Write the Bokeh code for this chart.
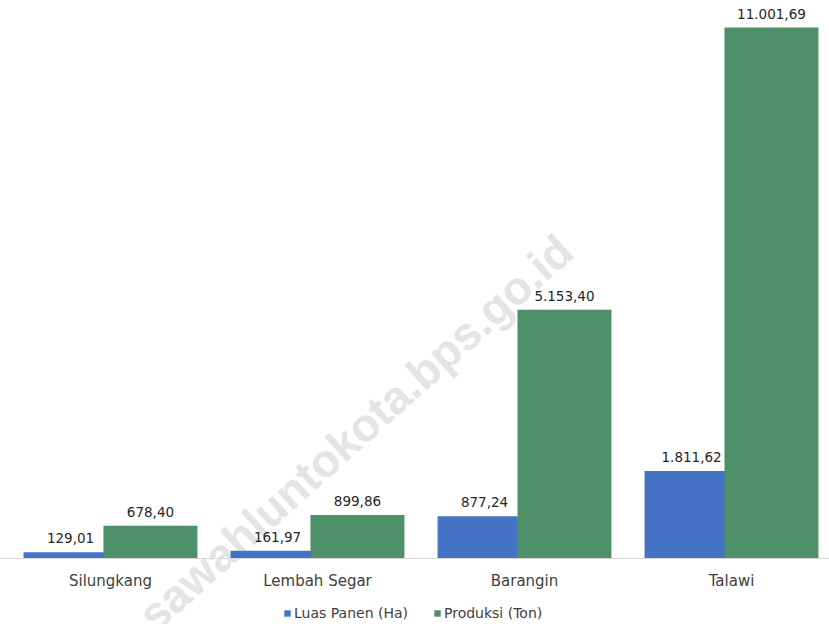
from bokeh.plotting import figure
from bokeh.models import ColumnDataSource, Legend, LegendItem, Label, Range1d, Span
from bokeh.core.properties import value
from bokeh.embed import file_html
from bokeh.resources import INLINE

categories = ["Silungkang", "Lembah Segar", "Barangin", "Talawi"]
luas_panen = [129.01, 161.97, 877.24, 1811.62]
produksi = [678.40, 899.86, 5153.40, 11001.69]
series_names = ["Luas Panen (Ha)", "Produksi (Ton)"]
series_colors = ["#4472C4", "#4E9068"]
watermark_text = "sawahluntokota.bps.go.id"


def fmt_id(v):
    s = f"{v:,.2f}"
    return s.replace(",", "X").replace(".", ",").replace("X", ".")


idx = list(range(len(categories)))
offset = 0.193
bar_w = 0.454

src_a = ColumnDataSource(dict(x=[i - offset for i in idx], top=luas_panen,
                              lab=[fmt_id(v) for v in luas_panen]))
src_b = ColumnDataSource(dict(x=[i + offset for i in idx], top=produksi,
                              lab=[fmt_id(v) for v in produksi]))
src_cat = ColumnDataSource(dict(x=idx, y=[0] * len(idx), lab=categories))

p = figure(width=829, height=624, output_backend="svg", toolbar_location=None,
           x_range=Range1d(-0.5314, 3.4734), y_range=Range1d(-1367.5, 11562),
           x_axis_location=None, y_axis_location=None,
           min_border_left=0, min_border_right=0, min_border_top=0, min_border_bottom=0)
p.outline_line_color = None
p.xgrid.visible = False
p.ygrid.visible = False
p.background_fill_color = "white"
p.border_fill_color = "white"

wm = Label(x=1.1836, y=2611, x_units="data", y_units="data", text=watermark_text,
           angle=42, angle_units="deg", text_align="center", text_baseline="middle",
           text_font="Liberation Sans", text_font_style="bold", text_font_size="46px",
           text_color="#e4e4e4", level="underlay")
p.add_layout(wm)

ra = p.vbar(x="x", top="top", width=bar_w, bottom=0, source=src_a,
            fill_color=series_colors[0], line_color=None)
rb = p.vbar(x="x", top="top", width=bar_w, bottom=0, source=src_b,
            fill_color=series_colors[1], line_color=None)

# x axis baseline
p.add_layout(Span(location=0, dimension="width", line_color="#d9d9d9", line_width=1))

for src in (src_a, src_b):
    p.text(x="x", y="top", text="lab", source=src, text_align="center",
           text_baseline="alphabetic", y_offset=-14, text_font=value("DejaVu Sans"),
           text_font_size="13.5px", text_color="#262626")

# category labels
p.text(x="x", y="y", text="lab", source=src_cat, text_align="center",
       text_baseline="middle", y_offset=22, text_font=value("DejaVu Sans"),
       text_font_size="15px", text_color="#404040")

legend = Legend(items=[LegendItem(label=series_names[0], renderers=[ra]),
                       LegendItem(label=series_names[1], renderers=[rb])],
                location=(283, 3), orientation="horizontal",
                glyph_width=8, glyph_height=8, label_standoff=3, spacing=25,
                padding=0, margin=0, border_line_color=None,
                background_fill_alpha=0,
                label_text_font="DejaVu Sans", label_text_font_size="14px",
                label_text_color="#404040")
p.add_layout(legend)

open("out.html", "w").write(file_html(p, INLINE))
